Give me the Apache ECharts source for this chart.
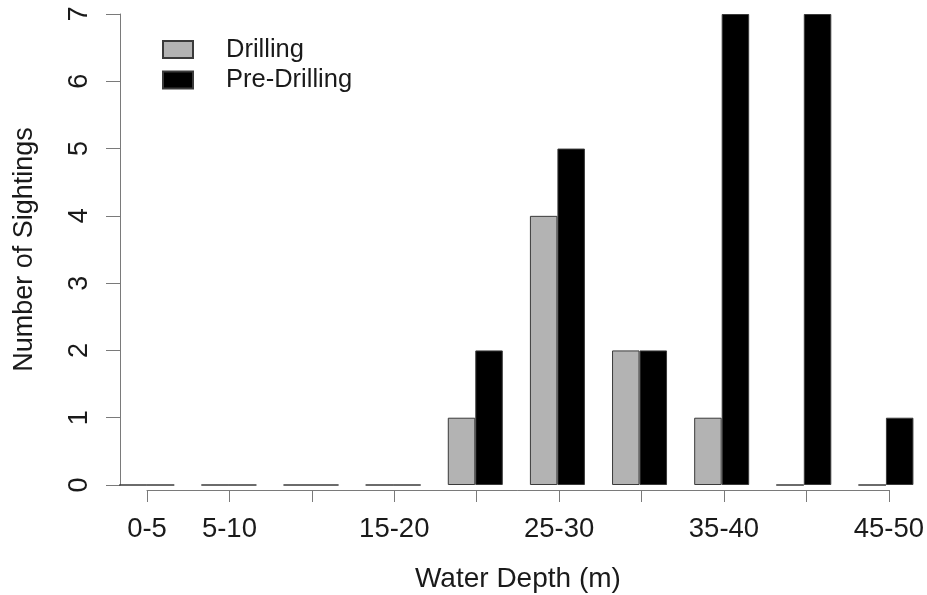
<!DOCTYPE html>
<html>
<head>
<meta charset="utf-8">
<script src="https://cdn.jsdelivr.net/npm/echarts@6/dist/echarts.min.js"></script>
<style>
  html, body { margin: 0; padding: 0; background: #fff; }
  #chart { width: 927px; height: 595px; }
</style>
</head>
<body>
<div id="chart"></div>
<script>
// depth bins and sighting counts
const depthBins = ['0-5', '5-10', '10-15', '15-20', '20-25', '25-30', '30-35', '35-40', '40-45', '45-50'];
const drilling = [0, 0, 0, 0, 1, 4, 2, 1, 0, 0];
const preDrilling = [0, 0, 0, 0, 2, 5, 2, 7, 7, 1];
// R drops the labels that would overlap, only these are printed
const shownBins = ['0-5', '5-10', '15-20', '25-30', '35-40', '45-50'];
const yTicks = [0, 1, 2, 3, 4, 5, 6, 7];

const font = 'Liberation Sans, Arial, sans-serif';
const axisGray = '#7a7a7a';
const textColor = '#1a1a1a';

const chart = echarts.init(document.getElementById('chart'));

const option = {
  backgroundColor: '#fff',
  animation: false,
  textStyle: { fontFamily: font },
  legend: {
    orient: 'vertical',
    left: 157,
    top: 31.5,
    itemWidth: 30,
    itemHeight: 17,
    itemGap: 4.5,
    icon: 'rect',
    textStyle: { fontSize: 25.5, color: textColor, lineHeight: 26, padding: [0, 0, 0, 28], fontFamily: font },
    data: ['Drilling', 'Pre-Drilling']
  },
  grid: [
    // bars
    { left: 105.7, top: 14, width: 825.6, height: 471 },
    // R style x axis that only spans first to last tick
    { left: 147, top: 489, width: 743, height: 1 }
  ],
  xAxis: [
    {
      type: 'category',
      gridIndex: 0,
      data: depthBins,
      axisLine: { show: false },
      axisTick: { show: false },
      axisLabel: { show: false }
    },
    {
      type: 'category',
      gridIndex: 1,
      data: depthBins,
      boundaryGap: false,
      name: 'Water Depth (m)',
      nameLocation: 'middle',
      nameGap: 75,
      nameTextStyle: { fontSize: 28, color: textColor, fontFamily: font },
      axisLine: { lineStyle: { color: axisGray, width: 1 } },
      axisTick: { alignWithLabel: true, interval: 0, length: 12, lineStyle: { color: axisGray } },
      axisLabel: {
        interval: (i, v) => shownBins.includes(v),
        margin: 25,
        fontSize: 27.5,
        color: textColor,
        fontFamily: font
      }
    }
  ],
  yAxis: [
    {
      type: 'value',
      gridIndex: 0,
      min: yTicks[0],
      max: yTicks[yTicks.length - 1],
      interval: 1,
      offset: -14.3,
      name: 'Number of Sightings',
      nameLocation: 'middle',
      nameGap: 82,
      nameTextStyle: { fontSize: 27, color: textColor, fontFamily: font },
      splitLine: { show: false },
      axisLine: { show: true, lineStyle: { color: axisGray, width: 1 } },
      axisTick: { show: true, length: 14, lineStyle: { color: axisGray } },
      axisLabel: { rotate: 90, margin: 27, fontSize: 27, color: textColor, fontFamily: font }
    },
    {
      type: 'value',
      gridIndex: 1,
      show: false
    }
  ],
  series: [
    {
      name: 'Drilling',
      type: 'bar',
      data: drilling,
      barWidth: 27.5,
      barGap: '0%',
      itemStyle: { color: '#b3b3b3', borderColor: '#3a3a3a', borderWidth: 1 }
    },
    {
      name: 'Pre-Drilling',
      type: 'bar',
      data: preDrilling,
      barWidth: 27.5,
      barGap: '0%',
      itemStyle: { color: '#000', borderColor: '#3a3a3a', borderWidth: 1 }
    }
  ]
};

chart.setOption(option);
</script>
</body>
</html>
